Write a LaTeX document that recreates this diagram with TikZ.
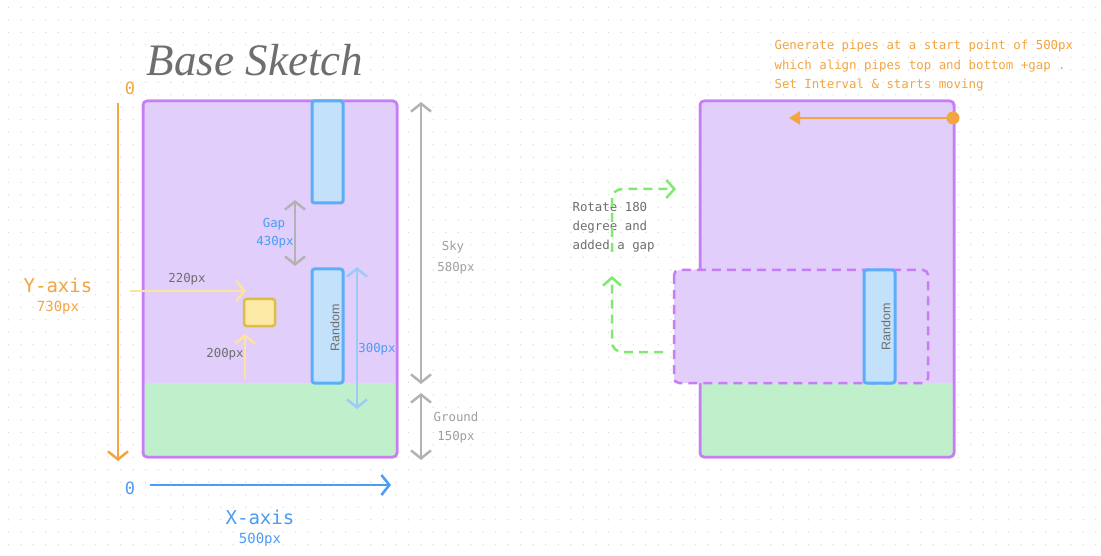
\documentclass[tikz,border=0pt]{standalone}
\usepackage{fontspec}
\setmonofont{DejaVu Sans Mono}
\setsansfont{Liberation Sans}
\newfontfamily\handfont{Liberation Serif}
\usetikzlibrary{arrows.meta}
\definecolor{lav}{HTML}{E1CEFB}
\definecolor{purp}{HTML}{C77DF3}
\definecolor{grnd}{HTML}{BFF0CB}
\definecolor{pipef}{HTML}{C4E1FB}
\definecolor{pipes}{HTML}{5BAEF7}
\definecolor{greyarr}{HTML}{B3B3B3}
\definecolor{greytxt}{HTML}{A0A0A0}
\definecolor{darktxt}{HTML}{6E6E6E}
\definecolor{orng}{HTML}{F2A541}
\definecolor{bluet}{HTML}{4A9CF5}
\definecolor{yelarr}{HTML}{FCE3A0}
\definecolor{yelf}{HTML}{FCE9A6}
\definecolor{yels}{HTML}{DDBE45}
\definecolor{lblue}{HTML}{9CCBF8}
\definecolor{grn}{HTML}{7EEB6E}
\definecolor{dotc}{HTML}{D6D6D6}
\tikzset{
  panel/.style={draw=purp, line width=2.5pt, fill=lav, rounded corners=4pt},
  groundbox/.style={fill=grnd, rounded corners=3pt},
  pipebox/.style={draw=pipes, fill=pipef, line width=3pt, rounded corners=2.5pt},
  chev/.style={-{Straight Barb[length=8pt,width=20pt]}},
  dchev/.style={{Straight Barb[length=8pt,width=20pt]}-{Straight Barb[length=8pt,width=20pt]}},
  lbl/.style={font=\ttfamily\fontsize{12.4}{14}\selectfont},
  rnd/.style={font=\sffamily\fontsize{12.5}{14}\selectfont, text=darktxt, rotate=90},
  gdash/.style={draw=grn, line width=2.5pt, dash pattern=on 9pt off 6pt, rounded corners=10pt},
}
\begin{document}
\begin{tikzpicture}[x=1pt,y=-1pt]
\useasboundingbox (0,0) rectangle (1101,556);
\fill[white] (0,0) rectangle (1101,556);
% dot grid
\foreach \i in {0,...,87} {
  \foreach \j in {0,...,44} {
    \fill[dotc] (8.3+12.5*\i, 7.3+12.5*\j) circle (0.7pt);
  }
}
% ---------- left panel ----------
\node[font=\handfont\itshape\fontsize{45}{48}\selectfont, text=darktxt] (title) at (255,60) {Base Sketch};
\draw[panel] (143,101) rectangle (397,457);
\fill[groundbox] (144.5,383) rectangle (395.5,455.5);
\draw[purp, line width=2.5pt, rounded corners=4pt] (143,101) rectangle (397,457);
\draw[pipebox] (312,101) rectangle (343,203);
\draw[pipebox] (312,269) rectangle (343,383);
\node[rnd] (rand1) at (335,328) {Random};

% gap arrow
\coordinate (g1) at (295,200);
\coordinate (g2) at (295,266);
\draw[dchev, greyarr, line width=2.5pt] (g1) -- (g2);
\node[lbl, text=bluet] (gaplbl) at (274,224) {Gap};
\node[lbl, text=bluet] (gapval) at (275,242) {430px};

% bird
\draw[draw=yels, fill=yelf, line width=2.5pt, rounded corners=2.5pt] (244,299) rectangle (275,326);
\coordinate (a1) at (130,291);
\coordinate (a2) at (246,291);
\draw[chev, yelarr, line width=2.5pt] (a1) -- (a2);
\node[lbl, text=darktxt] (l220) at (187,279) {220px};
\coordinate (b1) at (245,379);
\coordinate (b2) at (245,334);
\draw[chev, yelarr, line width=2.5pt] (b1) -- (b2);
\node[lbl, text=darktxt] (l200) at (225,354) {200px};

% 300px
\coordinate (c1) at (357,267);
\coordinate (c2) at (357,409);
\draw[dchev, lblue, line width=2.5pt] (c1) -- (c2);
\node[lbl, text=bluet] (l300) at (377,349) {300px};

% sky / ground
\coordinate (s1) at (421,102);
\coordinate (s2) at (421,384);
\draw[dchev, greyarr, line width=2.5pt] (s1) -- (s2);
\node[lbl, text=greytxt] (sky) at (453,247) {Sky};
\node[lbl, text=greytxt] (skyv) at (456,268) {580px};
\coordinate (gr1) at (421,393);
\coordinate (gr2) at (421,460);
\draw[dchev, greyarr, line width=2.5pt] (gr1) -- (gr2);
\node[lbl, text=greytxt] (grd) at (456,417) {Ground};
\node[lbl, text=greytxt] (grdv) at (456,437) {150px};

% axes
\coordinate (y1) at (118,103);
\coordinate (y2) at (118,461);
\draw[chev, orng, line width=2.5pt] (y1) -- (y2);
\node[font=\ttfamily\fontsize{17}{18}\selectfont, text=orng] (y0) at (130,88) {0};
\node[font=\ttfamily\fontsize{19}{20}\selectfont, text=orng] (ylbl) at (58,285) {Y-axis};
\node[font=\ttfamily\fontsize{14}{16}\selectfont, text=orng] (yval) at (58,308) {730px};

\coordinate (x1) at (150,485);
\coordinate (x2) at (391,485);
\draw[chev, bluet, line width=2.5pt] (x1) -- (x2);
\node[font=\ttfamily\fontsize{17}{18}\selectfont, text=bluet] (x0) at (130,488) {0};
\node[font=\ttfamily\fontsize{19}{20}\selectfont, text=bluet] (xlbl) at (260,517) {X-axis};
\node[font=\ttfamily\fontsize{14}{16}\selectfont, text=bluet] (xval) at (260,540) {500px};

% ---------- right panel ----------
\draw[panel] (700,101) rectangle (954,457);
\fill[groundbox] (701.5,383) rectangle (952.5,455.5);
\draw[purp, line width=2.5pt, rounded corners=4pt] (700,101) rectangle (954,457);
\draw[fill=lav, draw=purp, line width=2.5pt, dash pattern=on 9pt off 6pt, rounded corners=5pt] (674,270) rectangle (928,383);
\draw[pipebox] (864,270) rectangle (895,383);
\node[rnd] (rand2) at (886,327) {Random};

% orange generator arrow
\coordinate (o1) at (953,118);
\coordinate (o2) at (789,118);
\fill[orng] (o1) circle (6.5pt);
\draw[orng, line width=2.5pt, -{Triangle[length=11pt,width=13pt]}] (o1) -- (o2);
\node[text=orng, anchor=north west, align=left, font=\ttfamily\fontsize{12.4}{19.5}\selectfont] (gen) at (771,37)
  {Generate pipes at a start point of 500px\\which align pipes top and bottom +gap .\\Set Interval \& starts moving};

% rotate note
\node[text=darktxt, anchor=north west, align=left, font=\ttfamily\fontsize{12.4}{18.7}\selectfont] (rot) at (569,199)
  {Rotate 180\\degree and\\added a gap};
\coordinate (r1) at (663,352);
\coordinate (rc1) at (612,352);
\coordinate (r2) at (612,276);
\draw[gdash, -{Straight Barb[length=8pt,width=18pt]}] (r1) -- (rc1) -- (r2);
\coordinate (u1) at (612,252);
\coordinate (uc) at (612,189);
\coordinate (u2) at (676,189);
\draw[gdash, -{Straight Barb[length=8pt,width=18pt]}] (u1) -- (uc) -- (u2);
\end{tikzpicture}
\end{document}
